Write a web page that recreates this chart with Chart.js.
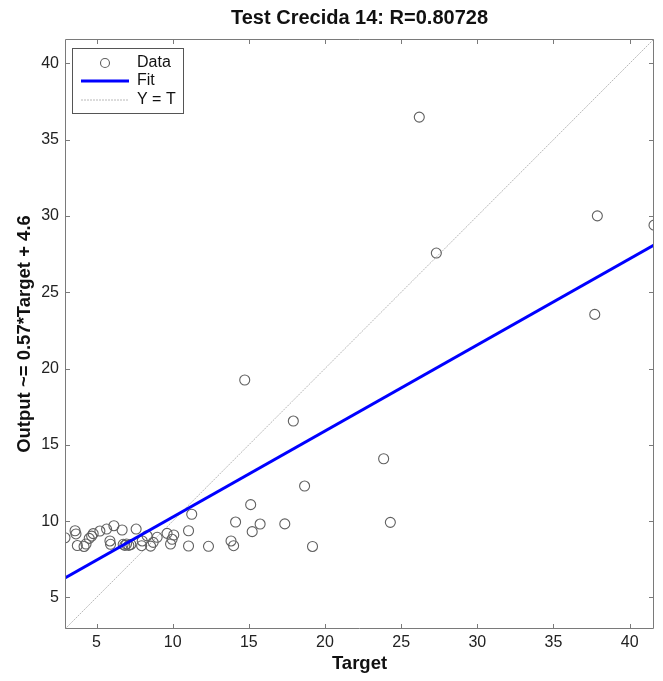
<!DOCTYPE html>
<html>
<head>
<meta charset="utf-8">
<title>Test Crecida 14</title>
<script src="https://cdn.jsdelivr.net/npm/chart.js@4.4.1/dist/chart.umd.min.js"></script>
<style>
    html, body { margin: 0; padding: 0; background: #fff; }
    canvas { display: block; background: #fff; }
</style>
</head>
<body>
<canvas id="regressionChart" width="663" height="681"></canvas>
<script>
// Values
const targets = [
    2.93, 3.59, 3.65, 3.74, 4.18, 4.31, 4.52, 4.68, 4.78, 5.22,
    5.66, 6.14, 5.88, 5.92, 6.68, 6.75, 6.86, 6.97, 7.12, 7.25,
    7.60, 7.96, 8.00, 8.32, 8.55, 8.72, 8.98, 9.63, 9.86, 9.96,
    10.07, 11.04, 11.04, 11.25, 12.35, 13.83, 14.00, 14.13, 15.12, 15.22,
    15.74, 17.36, 19.18, 18.66, 17.92, 14.73, 23.85, 24.29, 26.19, 27.31,
    37.88, 37.71, 41.60
];
const outputs = [
    8.91, 9.37, 9.16, 8.40, 8.34, 8.50, 8.87, 9.02, 9.18, 9.35,
    9.48, 9.70, 8.70, 8.48, 9.42, 8.48, 8.41, 8.50, 8.41, 8.47,
    9.48, 8.39, 8.70, 9.04, 8.36, 8.61, 8.94, 9.20, 8.50, 8.81,
    9.09, 9.37, 8.37, 10.45, 8.35, 8.70, 8.39, 9.94, 11.08, 9.31,
    9.81, 9.82, 8.34, 12.30, 16.56, 19.25, 14.09, 9.92, 36.48, 27.57,
    30.01, 23.55, 29.40
];

// Fit line end points and the Y = T diagonal
const fitTarget = [2.93, 41.6];
const fitOutput = [6.27, 28.1];
const identityLine = [2.93, 41.6];

const axisMin = 2.93;
const axisMax = 41.6;
const tickValues = [5, 10, 15, 20, 25, 30, 35, 40];

const FONT = "'Liberation Sans', Arial, sans-serif";
const AXIS_COLOR = '#7a7a7a';

const toPoints = (xs, ys) => xs.map((x, i) => ({ x: x, y: ys[i] }));

// MATLAB style box with inward tick marks on all four sides
const boxTicksPlugin = {
    id: 'boxTicks',
    afterDatasetsDraw(chart) {
        const { ctx, chartArea: a, scales } = chart;
        const len = 5;
        ctx.save();
        ctx.strokeStyle = AXIS_COLOR;
        ctx.lineWidth = 1;
        ctx.beginPath();
        ctx.rect(a.left + 0.5, a.top + 0.5, a.right - a.left - 1, a.bottom - a.top - 1);
        tickValues.forEach(v => {
            const px = Math.round(scales.x.getPixelForValue(v)) + 0.5;
            ctx.moveTo(px, a.bottom);
            ctx.lineTo(px, a.bottom - len);
            ctx.moveTo(px, a.top);
            ctx.lineTo(px, a.top + len);
            const py = Math.round(scales.y.getPixelForValue(v)) + 0.5;
            ctx.moveTo(a.left, py);
            ctx.lineTo(a.left + len, py);
            ctx.moveTo(a.right, py);
            ctx.lineTo(a.right - len, py);
        });
        ctx.stroke();
        ctx.restore();
    }
};

// Legend box in the upper left corner of the axes
const boxLegendPlugin = {
    id: 'boxLegend',
    afterDraw(chart) {
        const { ctx, chartArea: a } = chart;
        const x = a.left + 7;
        const y = a.top + 9;
        const w = 111;
        const h = 65;
        ctx.save();
        ctx.fillStyle = '#fff';
        ctx.fillRect(x, y, w, h);
        ctx.strokeStyle = '#555';
        ctx.lineWidth = 1;
        ctx.strokeRect(x + 0.5, y + 0.5, w, h);

        const sx0 = x + 9;
        const sx1 = x + 57;
        const tx = x + 65;
        const rows = [y + 15, y + 33, y + 52];
        chart.data.datasets.forEach(ds => {
            const row = rows[ds.legendRow];
            ctx.beginPath();
            ctx.strokeStyle = ds.borderColor;
            ctx.lineWidth = ds.borderWidth;
            if (ds.legendRow === 0) {
                ctx.arc((sx0 + sx1) / 2, row, 4.5, 0, Math.PI * 2);
                ctx.stroke();
            } else {
                ctx.setLineDash(ds.borderDash || []);
                ctx.moveTo(sx0, row);
                ctx.lineTo(sx1, row);
                ctx.stroke();
                ctx.setLineDash([]);
            }
            ctx.fillStyle = '#111';
            ctx.font = '16px ' + FONT;
            ctx.textBaseline = 'middle';
            ctx.textAlign = 'left';
            ctx.fillText(ds.label, tx, row);
        });
        ctx.restore();
    }
};

const fixedTicks = scale => {
    scale.ticks = tickValues.map(v => ({ value: v }));
};

new Chart(document.getElementById('regressionChart'), {
    type: 'scatter',
    data: {
        datasets: [
            {
                label: 'Fit',
                type: 'line',
                data: toPoints(fitTarget, fitOutput),
                borderColor: 'rgb(0, 0, 255)',
                borderWidth: 3,
                pointRadius: 0,
                fill: false,
                order: 0,
                legendRow: 1
            },
            {
                label: 'Data',
                data: toPoints(targets, outputs),
                pointStyle: 'circle',
                pointRadius: 5,
                pointHoverRadius: 5,
                backgroundColor: 'rgba(0, 0, 0, 0)',
                borderColor: '#606060',
                borderWidth: 1.1,
                order: 1,
                legendRow: 0
            },
            {
                label: 'Y = T',
                type: 'line',
                data: toPoints(identityLine, identityLine),
                borderColor: '#b8b8b8',
                borderWidth: 1,
                borderDash: [2, 1],
                pointRadius: 0,
                fill: false,
                order: 2,
                legendRow: 2
            }
        ]
    },
    options: {
        responsive: false,
        animation: false,
        events: [],
        layout: {
            padding: { left: 0, right: 9, top: 0, bottom: 0 }
        },
        plugins: {
            legend: { display: false },
            tooltip: { enabled: false },
            title: {
                display: true,
                fullSize: false,
                text: 'Test Crecida 14: R=0.80728',
                color: '#111',
                font: { family: FONT, size: 20, weight: 'bold' },
                padding: { top: 6, bottom: 9 }
            }
        },
        scales: {
            x: {
                type: 'linear',
                min: axisMin,
                max: axisMax,
                afterBuildTicks: fixedTicks,
                afterFit: scale => { scale.height = 52; },
                grid: { display: false, drawTicks: false },
                border: { display: false },
                ticks: {
                    color: '#222',
                    font: { family: FONT, size: 16 },
                    padding: 4,
                    maxRotation: 0
                },
                title: {
                    display: true,
                    text: 'Target',
                    color: '#111',
                    font: { family: FONT, size: 18.5, weight: 'bold' },
                    padding: { top: 0, bottom: 6 }
                }
            },
            y: {
                type: 'linear',
                min: axisMin,
                max: axisMax,
                afterBuildTicks: fixedTicks,
                afterFit: scale => { scale.width = 65; },
                grid: { display: false, drawTicks: false },
                border: { display: false },
                ticks: {
                    color: '#222',
                    font: { family: FONT, size: 16 },
                    padding: 6
                },
                title: {
                    display: true,
                    text: 'Output ~= 0.57*Target + 4.6',
                    color: '#111',
                    font: { family: FONT, size: 18.5, weight: 'bold' },
                    padding: { top: 14, bottom: 0 }
                }
            }
        }
    },
    plugins: [boxTicksPlugin, boxLegendPlugin]
});
</script>
</body>
</html>
